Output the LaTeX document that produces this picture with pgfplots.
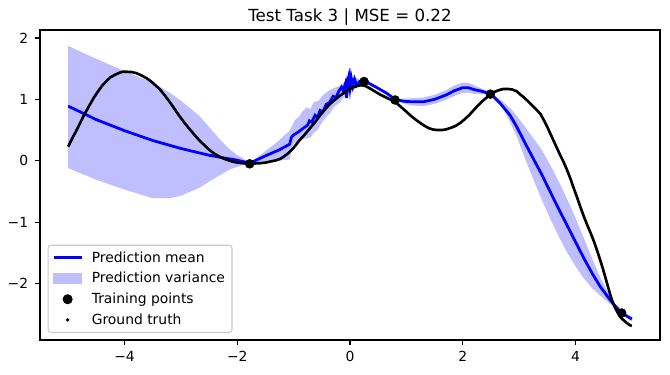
\documentclass[border=0pt]{standalone}
\usepackage{pgfplots}
\pgfplotsset{compat=1.18}
\usepgfplotslibrary{fillbetween}
\usepackage{fontspec}
\setmainfont{DejaVu Sans}
\definecolor{bandblue}{RGB}{191,191,255}
\definecolor{meanblue}{RGB}{0,0,255}

\begin{document}
\begin{tikzpicture}
\begin{axis}[
  scale only axis,
  width=446.4pt, height=223.2pt,
  xmin=-5.5, xmax=5.5, ymin=-2.92, ymax=2.13,
  axis line style={line width=0.8pt},
  tick align=outside, tick pos=left,
  major tick length=3.5pt,
  every tick/.style={black, line width=0.8pt},
  xtick={-4,-2,0,2,4}, xticklabels={−4,−2,0,2,4},
  ytick={-2,-1,0,1,2}, yticklabels={−2,−1,0,1,2},
  tick label style={font=\fontsize{10}{12}\selectfont},
  yticklabel style={xshift=-1.5pt},
  xticklabel style={yshift=-1pt},
  title={Test Task 3 | MSE = 0.22},
  title style={font=\fontsize{12}{14}\selectfont, yshift=-6.5pt},
  legend cell align=left,
  legend style={at={(0,0)}, anchor=south west, xshift=5.5pt, yshift=5pt,
    draw=black!20, rounded corners=2pt, line width=0.8pt,
    font=\fontsize{10}{12}\selectfont, inner xsep=3pt, inner ysep=2.5pt, row sep=1.8pt},
  clip=true,
]
\addlegendimage{legend image code/.code={\draw[meanblue, line width=2pt, sharp corners] (0pt,0pt) -- (20pt,0pt); \path (25pt,0pt);}}
\addlegendentry{Prediction mean}
\addlegendimage{legend image code/.code={\fill[bandblue, sharp corners] (0pt,-3.5pt) rectangle (20pt,3.5pt); \path (25pt,0pt);}}
\addlegendentry{Prediction variance}
\addlegendimage{legend image code/.code={\fill[black] (10pt,0pt) circle (3.2pt); \path (0pt,0pt) (25pt,0pt);}}
\addlegendentry{Training points}
\addlegendimage{legend image code/.code={\fill[black] (10pt,0pt) circle (0.8pt); \path (0pt,0pt) (25pt,0pt);}}
\addlegendentry{Ground truth}

% variance band
\addplot[draw=none, name path=up, forget plot] table {
-5.00 1.87
-4.50 1.66
-4.00 1.46
-3.50 1.27
-3.20 1.11
-3.00 0.98
-2.67 0.73
-2.50 0.55
-2.31 0.35
-2.15 0.20
-2.01 0.10
-1.90 0.04
-1.78 -0.04
-1.54 0.13
-1.30 0.30
-1.07 0.49
-1.04 0.55
-0.98 0.66
-0.90 0.72
-0.85 0.80
-0.77 0.87
-0.70 0.84
-0.65 0.95
-0.55 0.98
-0.50 1.05
-0.41 1.12
-0.30 1.18
-0.18 1.22
-0.10 1.28
0.00 1.32
0.10 1.35
0.25 1.30
0.50 1.20
0.80 1.01
0.95 1.01
1.10 1.02
1.30 1.03
1.50 1.075
1.70 1.15
1.85 1.225
2.00 1.275
2.10 1.27
2.20 1.23
2.35 1.17
2.50 1.09
2.60 1.04
2.70 0.97
2.84 0.86
2.96 0.73
3.10 0.56
3.26 0.36
3.40 0.18
3.56 -0.08
3.70 -0.33
3.85 -0.62
4.00 -0.93
4.15 -1.26
4.30 -1.60
4.44 -1.90
4.60 -2.18
4.70 -2.33
4.82 -2.48
5.00 -2.54
};
\addplot[draw=none, name path=lo, forget plot] table {
-5.00 -0.12
-4.50 -0.31
-4.00 -0.47
-3.50 -0.61
-3.20 -0.61
-3.00 -0.57
-2.67 -0.44
-2.43 -0.30
-2.13 -0.14
-1.90 -0.07
-1.78 -0.04
-1.54 -0.03
-1.30 0.00
-1.07 0.02
-1.04 0.20
-1.00 0.28
-0.90 0.32
-0.80 0.36
-0.70 0.38
-0.65 0.45
-0.58 0.50
-0.50 0.62
-0.41 0.73
-0.35 0.78
-0.28 0.88
-0.18 0.95
-0.10 1.05
0.00 1.10
0.10 1.17
0.25 1.28
0.50 1.16
0.80 0.99
0.95 0.93
1.10 0.90
1.30 0.89
1.50 0.925
1.70 0.99
1.85 1.055
2.00 1.105
2.10 1.11
2.20 1.09
2.35 1.09
2.50 1.08
2.60 0.99
2.70 0.87
2.84 0.63
2.96 0.39
3.10 0.05
3.26 -0.32
3.40 -0.63
3.56 -0.96
3.70 -1.23
3.85 -1.49
4.00 -1.72
4.15 -1.92
4.30 -2.08
4.44 -2.20
4.60 -2.32
4.70 -2.39
4.82 -2.48
5.00 -2.62
};
\addplot[bandblue, draw=none, forget plot] fill between[of=up and lo];

% prediction mean
\addplot[meanblue, line width=2pt, forget plot] table {
-5.00 0.89
-4.50 0.67
-4.00 0.49
-3.50 0.33
-3.00 0.20
-2.50 0.09
-2.20 0.04
-2.00 0.01
-1.78 -0.04
-1.50 0.08
-1.25 0.18
-1.07 0.27
-1.04 0.38
-1.00 0.42
-0.90 0.48
-0.80 0.55
-0.75 0.58
-0.72 0.65
-0.68 0.63
-0.62 0.74
-0.58 0.70
-0.53 0.82
-0.48 0.80
-0.42 0.92
-0.36 0.95
-0.30 1.05
-0.25 1.03
-0.20 1.13
-0.15 1.20
-0.12 1.14
-0.08 1.26
-0.06 1.02
-0.04 1.30
-0.02 1.38
0.00 1.20
0.02 1.36
0.05 1.22
0.08 1.33
0.12 1.23
0.17 1.29
0.25 1.29
0.30 1.28
0.50 1.18
0.65 1.10
0.80 1.00
0.95 0.97
1.10 0.96
1.30 0.96
1.50 1.00
1.70 1.07
1.85 1.14
2.00 1.19
2.10 1.19
2.20 1.16
2.35 1.13
2.50 1.085
2.67 0.93
2.84 0.74
2.96 0.55
3.10 0.30
3.26 0.02
3.40 -0.22
3.56 -0.52
3.70 -0.78
3.85 -1.05
4.00 -1.32
4.15 -1.59
4.30 -1.84
4.44 -2.05
4.60 -2.25
4.70 -2.36
4.82 -2.48
5.00 -2.58
};

% ground truth
\addplot[black, line width=1.9pt, line join=round, forget plot] table {
-5.00 0.23
-4.92 0.38
-4.85 0.50
-4.78 0.63
-4.71 0.76
-4.63 0.89
-4.55 1.02
-4.47 1.13
-4.40 1.22
-4.32 1.30
-4.25 1.36
-4.17 1.40
-4.10 1.43
-4.03 1.45
-3.97 1.45
-3.88 1.445
-3.80 1.43
-3.70 1.39
-3.60 1.34
-3.50 1.27
-3.38 1.17
-3.29 1.07
-3.20 0.96
-3.11 0.84
-3.02 0.72
-2.93 0.61
-2.84 0.51
-2.75 0.41
-2.67 0.33
-2.58 0.25
-2.50 0.18
-2.40 0.11
-2.30 0.06
-2.20 0.02
-2.10 -0.01
-2.00 -0.03
-1.90 -0.04
-1.78 -0.05
-1.70 -0.045
-1.60 -0.04
-1.50 -0.03
-1.40 -0.01
-1.32 0.005
-1.24 0.03
-1.17 0.07
-1.10 0.12
-1.01 0.20
-0.95 0.27
-0.89 0.34
-0.80 0.43
-0.71 0.53
-0.62 0.63
-0.53 0.74
-0.44 0.84
-0.35 0.93
-0.26 1.00
-0.18 1.06
-0.10 1.11
0.00 1.17
0.06 1.20
0.13 1.22
0.20 1.23
0.27 1.22
0.35 1.18
0.44 1.13
0.53 1.08
0.62 1.04
0.71 1.00
0.80 0.96
0.90 0.88
1.00 0.80
1.07 0.74
1.15 0.68
1.24 0.62
1.32 0.57
1.40 0.53
1.47 0.51
1.54 0.50
1.62 0.50
1.70 0.51
1.80 0.54
1.88 0.57
1.96 0.62
2.04 0.68
2.12 0.75
2.20 0.83
2.28 0.91
2.36 0.98
2.44 1.04
2.49 1.08
2.56 1.12
2.64 1.15
2.72 1.17
2.80 1.17
2.88 1.16
2.96 1.13
3.02 1.08
3.10 1.02
3.20 0.93
3.29 0.85
3.38 0.76
3.44 0.66
3.50 0.55
3.55 0.45
3.61 0.33
3.67 0.21
3.73 0.09
3.79 -0.02
3.85 -0.15
3.91 -0.29
3.97 -0.45
4.03 -0.60
4.09 -0.76
4.15 -0.91
4.21 -1.05
4.27 -1.18
4.33 -1.32
4.39 -1.48
4.44 -1.62
4.49 -1.77
4.54 -1.93
4.58 -2.06
4.62 -2.19
4.66 -2.30
4.70 -2.39
4.74 -2.46
4.78 -2.52
4.82 -2.57
4.87 -2.61
4.92 -2.65
4.97 -2.68
5.00 -2.69
};

% training points
\addplot[only marks, mark=*, mark size=3.2pt, black, forget plot] table {
-1.78 -0.05
0.25 1.29
0.80 0.99
2.49 1.085
4.82 -2.48
};
\end{axis}
\pgfresetboundingbox
\useasboundingbox ([xshift=-28.8pt,yshift=-24.5pt]current axis.south west) rectangle ([xshift=7.2pt,yshift=21.6pt]current axis.north east);
\end{tikzpicture}
\end{document}
